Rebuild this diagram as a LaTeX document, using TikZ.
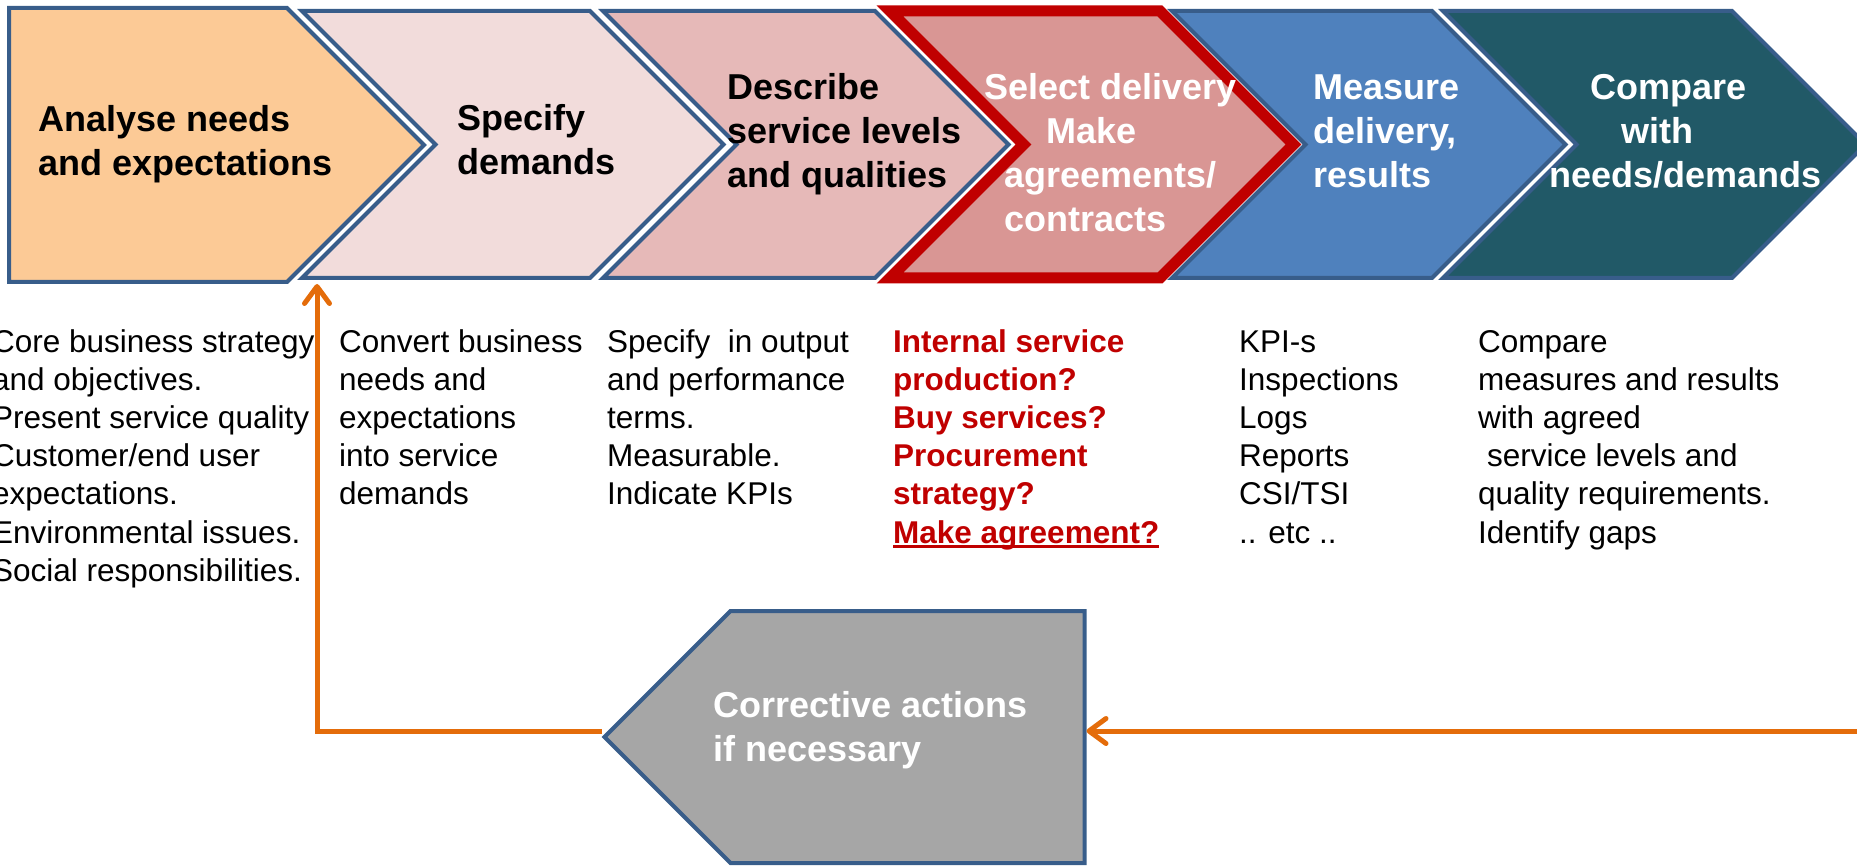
\documentclass[tikz,border=0pt]{standalone}
\usepackage{fontspec}
\setmainfont{Liberation Sans}
\usetikzlibrary{arrows.meta,shapes}
\definecolor{outl}{HTML}{385D8A}
\definecolor{fbor}{HTML}{E46C0A}
\definecolor{redtxt}{HTML}{C00000}
\definecolor{fillA}{HTML}{FCCA96}
\definecolor{fillB}{HTML}{F2DCDB}
\definecolor{fillC}{HTML}{E6B9B8}
\definecolor{fillD}{HTML}{D99694}
\definecolor{fillE}{HTML}{4F81BD}
\definecolor{fillF}{HTML}{215967}
\definecolor{fillG}{HTML}{A6A6A6}
\newcommand{\thickul}[1]{\setbox0\hbox{#1}\rlap{\rule[-5pt]{\wd0}{2.7pt}}\box0}

\begin{document}
\begin{tikzpicture}[x=1pt,y=-1pt,
    chev/.style={signal, signal to=east, signal from=west, signal pointer angle=90,
      draw=outl, line width=4pt, inner sep=0pt, minimum height=267pt},
    head/.style={anchor=base west, inner sep=0pt, align=left,
      font=\fontsize{36}{44}\selectfont\bfseries},
    desc/.style={anchor=base west, inner sep=0pt, align=left,
      font=\fontsize{31.5}{38.2}\selectfont},
    fb/.style={draw=fbor, line width=5pt, -{Straight Barb[length=17pt,width=25pt,round]}}]
  \useasboundingbox (0,0) rectangle (1857,866);
  \clip (0,0) rectangle (1857,866);

  % process steps
  \node[chev, fill=fillA, signal from=nowhere, minimum width=415pt, minimum height=274pt] (c1) at (148,145) {};
  \node[chev, fill=fillB, minimum width=421.5pt] (c2) at (512.75,144.5) {};
  \node[chev, fill=fillC, minimum width=405.5pt] (c3) at (805.75,144.5) {};
  \node[chev, fill=fillE, minimum width=393.5pt] (c5) at (1368.75,144.5) {};
  \node[chev, fill=fillF, minimum width=422.5pt] (c6) at (1654.25,144.5) {};
  \node[chev, fill=fillD, draw=redtxt, line width=11pt, minimum width=403.5pt] (c4) at (1091.75,144.5) {};

  % texts sit on the baseline of their last line
  \node[head] (h1) at (38,176) {Analyse needs\\and expectations};
  \node[head] (h2) at (457,175) {Specify\\demands};
  \node[head] (h3) at (727,188) {Describe\\service levels\\and qualities};
  \node[head, text=white] (h4) at (984,232) {Select delivery\\\hspace*{62pt}Make\\\hspace*{20pt}agreements/\\\hspace*{20pt}contracts};
  \node[head, text=white] (h5) at (1313,188) {Measure\\delivery,\\results};
  \node[head, text=white] (h6) at (1549,188) {\hspace*{41pt}Compare\\\hspace*{72pt}with\\needs/demands};

  % notes under the steps
  \node[desc] (d1) at (-8,581.2) {Core business strategy\\and objectives.\\Present service quality\\Customer/end user\\expectations.\\Environmental issues.\\Social responsibilities.};
  \node[desc] (d2) at (339,504.8) {Convert business\\needs and\\expectations\\into service\\demands};
  \node[desc] (d3) at (607,504.8) {Specify~ in output\\and performance\\terms.\\Measurable.\\Indicate KPIs};
  \node[desc, text=redtxt, font=\fontsize{31.5}{38.2}\selectfont\bfseries] (d4) at (893,543) {Internal service\\production?\\Buy services?\\Procurement\\strategy?\\\thickul{Make agreement?}};
  \node[desc] (d5) at (1239,543) {KPI-s\\Inspections\\Logs\\Reports\\CSI/TSI\\.. etc ..};
  \node[desc] (d6) at (1478,543) {Compare\\measures and results\\with agreed\\\hspace*{9pt}service levels and\\quality requirements.\\Identify gaps};

  % feedback loop
  \node[signal, signal to=west, signal from=nowhere, signal pointer angle=90, draw=outl, line width=4pt,
    fill=fillG, inner sep=0pt, minimum width=480pt, minimum height=252pt] (corr) at (907.5,737) {};
  \node[head, text=white] (hc) at (713,761) {Corrective actions\\if necessary};
  \coordinate (back) at (317,284);
  \coordinate (edge) at (1860,731);
  \draw[fb] ([yshift=6pt]corr.west) -| (back);
  \draw[fb] (edge) -- ([yshift=6pt]corr.east);
\end{tikzpicture}
\end{document}
